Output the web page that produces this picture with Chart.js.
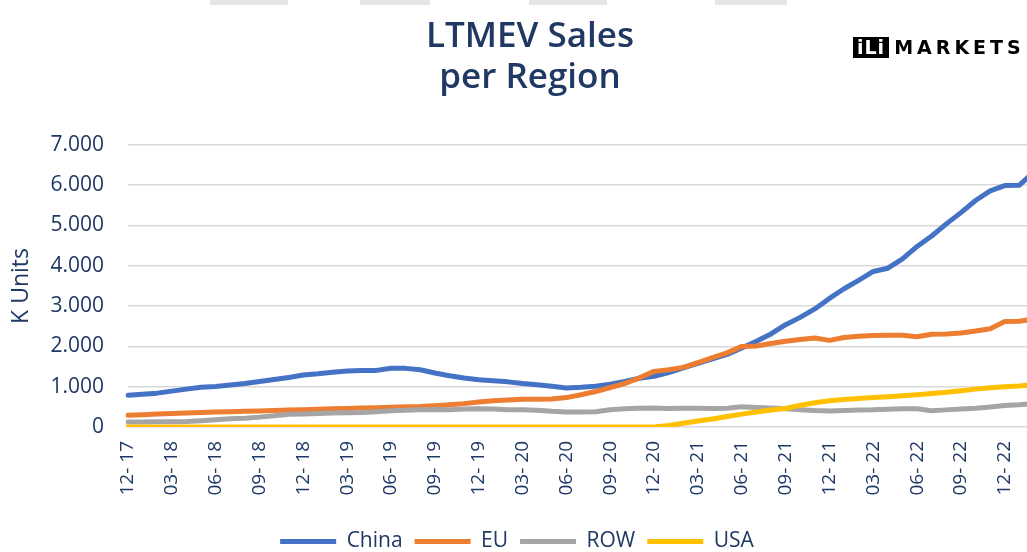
<!DOCTYPE html>
<html>
<head>
<meta charset="utf-8">
<script src="https://cdn.jsdelivr.net/npm/chart.js@4"></script>
<style>
  html, body { margin: 0; padding: 0; background: #fff; overflow: hidden; width: 1027px; height: 552px; }
  #wrap { position: relative; width: 1060px; height: 562px; }
  .tab { position: absolute; top: 0; height: 5px; background: #e6e6e6; }
  #logo { position: absolute; left: 853px; top: 37px; height: 21px; display: flex; align-items: center;
          font-family: "DejaVu Sans", sans-serif; font-weight: bold; font-size: 19px; line-height: 21px; }
  #logo .box { background: #000; color: #fff; padding: 0 4px; height: 21px; letter-spacing: 1px; }
  #logo .txt { color: #000; margin-left: 5px; letter-spacing: 4px; }
</style>
</head>
<body>
<div id="wrap">
  <div class="tab" style="left:210px;width:78px"></div>
  <div class="tab" style="left:360px;width:70px"></div>
  <div class="tab" style="left:529px;width:78px"></div>
  <div class="tab" style="left:715px;width:72px"></div>
  <div id="logo"><span class="box">iLi</span><span class="txt">MARKETS</span></div>
  <canvas id="chart" width="1060" height="562"></canvas>
</div>
<script>
// monthly, Dec 2017 .. Feb 2023
const months = [
  '12-17',
  '01-18','02-18','03-18','04-18','05-18','06-18','07-18','08-18','09-18','10-18','11-18','12-18',
  '01-19','02-19','03-19','04-19','05-19','06-19','07-19','08-19','09-19','10-19','11-19','12-19',
  '01-20','02-20','03-20','04-20','05-20','06-20','07-20','08-20','09-20','10-20','11-20','12-20',
  '01-21','02-21','03-21','04-21','05-21','06-21','07-21','08-21','09-21','10-21','11-21','12-21',
  '01-22','02-22','03-22','04-22','05-22','06-22','07-22','08-22','09-22','10-22','11-22','12-22',
  '01-23','02-23'
];

const china = [
  790, 815, 840, 890, 940, 985, 1005, 1040, 1080, 1130,
  1180, 1230, 1290, 1320, 1360, 1390, 1400, 1405, 1460, 1455,
  1420, 1340, 1270, 1215, 1170, 1150, 1120, 1080, 1050, 1010,
  970, 985, 1010, 1060, 1130, 1210, 1260, 1350, 1470, 1580,
  1690, 1800, 1960, 2130, 2310, 2540, 2720, 2930, 3190, 3430,
  3640, 3860, 3940, 4170, 4480, 4740, 5040, 5320, 5620, 5860,
  5990, 6000, 6330
];
const eu = [
  290, 305, 320, 335, 345, 360, 370, 380, 390, 400,
  410, 420, 430, 440, 450, 460, 470, 480, 490, 500,
  510, 530, 555, 580, 620, 650, 670, 690, 690, 695,
  730, 800, 880, 980, 1080, 1220, 1380, 1420, 1480, 1600,
  1720, 1840, 2000, 2010, 2070, 2130, 2170, 2210, 2150, 2220,
  2250, 2270, 2275, 2275, 2240, 2300, 2310, 2330, 2380, 2440,
  2620, 2625, 2680
];
const row = [
  125, 125, 128, 130, 135, 155, 180, 205, 220, 245,
  280, 315, 325, 335, 345, 355, 360, 380, 405, 415,
  430, 435, 430, 445, 455, 445, 430, 425, 415, 390,
  375, 375, 380, 430, 455, 465, 470, 460, 465, 465,
  460, 465, 500, 485, 470, 455, 430, 410, 400, 410,
  420, 425, 440, 455, 455, 405, 425, 445, 465, 495,
  535, 555, 585
];
const usa = [
  0, 0, 0, 0, 0, 0, 0, 0, 0, 0,
  0, 0, 0, 0, 0, 0, 0, 0, 0, 0,
  0, 0, 0, 0, 0, 0, 0, 0, 0, 0,
  0, 0, 0, 0, 0, 0, 0, 35, 95, 150,
  200, 260, 320, 370, 420, 460, 540, 600, 650, 680,
  710, 730, 750, 775, 800, 830, 860, 900, 940, 975,
  1000, 1020, 1055
];

const seriesNames = ['China', 'EU', 'ROW', 'USA'];
const seriesColors = ['#4472C4', '#ED7D31', '#A5A5A5', '#FFC000'];
const seriesData = [china, eu, row, usa];

const navy = '#1F3864';
const sans = '"Open Sans", sans-serif';

const datasets = seriesNames.map((name, i) => ({
  label: name,
  data: seriesData[i],
  borderColor: seriesColors[i],
  backgroundColor: seriesColors[i],
  borderWidth: 5,
  pointRadius: 0,
  tension: 0,
  borderCapStyle: 'round',
  borderJoinStyle: 'round',
  order: seriesNames.length - i   // later series on top, like the original
}));

// centre the title on the whole canvas, not just the padded box
const titleCenter = {
  id: 'titleCenter',
  afterLayout(chart) {
    chart.titleBlock.left = 0;
    chart.titleBlock.right = chart.width;
  }
};

new Chart(document.getElementById('chart'), {
  type: 'line',
  data: { labels: months, datasets: datasets },
  plugins: [titleCenter],
  options: {
    responsive: false,
    animation: false,
    layout: { padding: { left: 0, right: 26, top: 0, bottom: 0 } },
    plugins: {
      tooltip: { enabled: false },
      title: {
        display: true,
        text: ['LTMEV Sales', 'per Region'],
        color: navy,
        font: { family: sans, size: 35, weight: '600', lineHeight: 1.17 },
        padding: { top: 17, bottom: 46 }
      },
      legend: {
        position: 'bottom',
        labels: {
          boxWidth: 56,
          boxHeight: 5,
          padding: 12,
          color: navy,
          font: { family: sans, size: 21 },
          sort: (a, b) => a.datasetIndex - b.datasetIndex,
          generateLabels: (chart) =>
            Chart.defaults.plugins.legend.labels.generateLabels(chart).map(l => {
              l.fillStyle = l.strokeStyle;
              l.lineWidth = 0;
              return l;
            })
        }
      }
    },
    scales: {
      x: {
        grid: { display: false, drawTicks: false },
        border: { display: false },
        ticks: {
          autoSkip: false,
          minRotation: 90,
          maxRotation: 90,
          padding: 14,
          color: navy,
          font: { family: sans, size: 19 },
          callback: (v, i) => (i % 3 === 0 ? months[i].replace('-', '- ') : null)
        },
        afterFit: (s) => { s.height = 92; }
      },
      y: {
        min: 0,
        max: 7000,
        grid: { color: '#D9D9D9', lineWidth: 1.5, drawTicks: false },
        border: { display: false },
        ticks: {
          stepSize: 1000,
          padding: 24,
          color: navy,
          font: { family: sans, size: 21 },
          callback: (v) => (v === 0 ? '0' : (v / 1000) + '.000')
        },
        title: {
          display: true,
          text: 'K Units',
          color: navy,
          font: { family: sans, size: 23 },
          padding: { top: 8, bottom: 0 }
        },
        afterFit: (s) => { s.width = 128; }
      }
    }
  }
});
</script>
</body>
</html>
